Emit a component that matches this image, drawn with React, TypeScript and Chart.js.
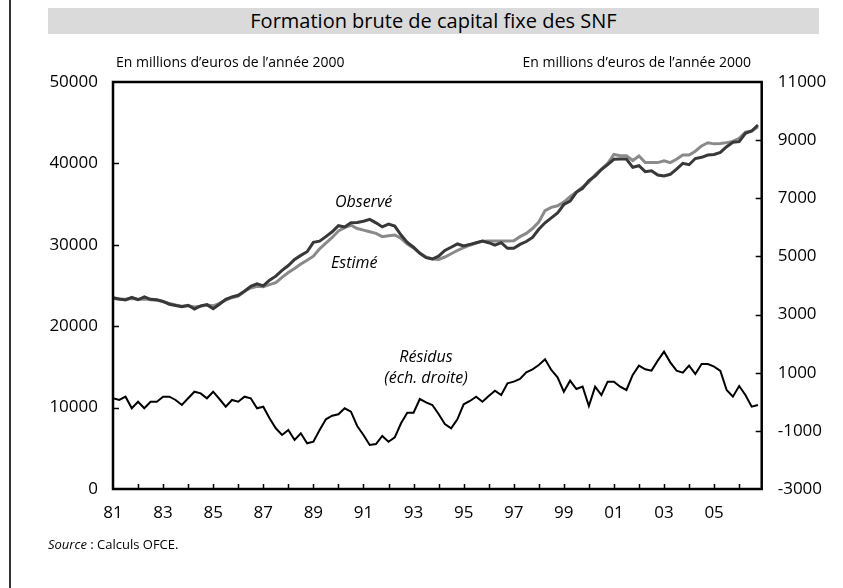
import React, { useEffect, useRef } from "react";
import { Chart, registerables } from "chart.js";

Chart.register(...registerables);

// Quarterly data, 1981Q1 .. 2006Q4
const startYear = 1981;
const observe = [
  23500, 23350, 23220, 23550, 23250, 23600, 23300, 23250,
  23050, 22700, 22550, 22400, 22570, 22100, 22500, 22650,
  22150, 22700, 23300, 23600, 23800, 24300, 24900, 25200,
  24950, 25650, 26150, 26850, 27450, 28200, 28700, 29150,
  30300, 30450, 31000, 31600, 32350, 32200, 32700, 32750,
  32900, 33130, 32700, 32200, 32550, 32300, 31200, 30300,
  29700, 28950, 28420, 28250, 28600, 29300, 29700, 30100,
  29850, 30050, 30250, 30450, 30260, 29970, 30260, 29570,
  29570, 30050, 30400, 30900, 31900, 32700, 33300, 33900,
  34950, 35380, 36450, 36940, 37900, 38450, 39250, 39850,
  40500, 40540, 40540, 39520, 39720, 38980, 39100, 38580,
  38450, 38660, 39300, 40000, 39840, 40600, 40750, 41030,
  41100, 41350, 42050, 42590, 42670, 43700, 43980, 44720,
];
const estime = [
  23400, 23300, 23300, 23400, 23300, 23350, 23250, 23200,
  23000, 22800, 22600, 22450, 22500, 22350, 22450, 22600,
  22500, 22800, 23200, 23500, 23700, 24300, 24700, 24900,
  24850, 25100, 25350, 26000, 26600, 27100, 27650, 28100,
  28600, 29500, 30200, 30900, 31700, 32100, 32400, 32000,
  31800, 31600, 31400, 31000, 31100, 31200, 30800, 30100,
  29600, 29000, 28500, 28250, 28200, 28500, 28900, 29300,
  29650, 29950, 30200, 30450, 30470, 30470, 30470, 30470,
  30500, 31000, 31400, 32000, 32800, 34200, 34600, 34800,
  35250, 35900, 36500, 37100, 37700, 38600, 39300, 40000,
  41100, 40950, 40950, 40350, 40900, 40100, 40100, 40100,
  40330, 40090, 40500, 41030, 41030, 41500, 42150, 42540,
  42400, 42450, 42550, 42700, 43080, 43850, 43980, 44500,
];
const residus = [
  120, 62, 175, -224, 3, -224, 3, 3,
  175, 175, 62, -110, 120, 347, 290, 120,
  347, 96, -169, 62, 3, 175, 120, -224,
  -169, -568, -912, -1142, -970, -1314, -1084, -1428,
  -1373, -970, -602, -478, -430, -224, -341, -833,
  -1142, -1486, -1452, -1177, -1373, -1222, -740, -375,
  -375, 96, -18, -110, -420, -764, -912, -602,
  -86, 27, 175, 3, 199, 382, 234, 635,
  692, 784, 1013, 1117, 1266, 1461, 1094, 841,
  348, 726, 440, 520, -145, 520, 234, 692,
  692, 520, 406, 922, 1243, 1117, 1071, 1415,
  1724, 1357, 1071, 1002, 1243, 956, 1300, 1300,
  1208, 1059, 406, 175, 543, 234, -169, -110,
];

const xTickYears = [1981, 1983, 1985, 1987, 1989, 1991, 1993, 1995, 1997, 1999, 2001, 2003, 2005];
const xTickLabels = ["81", "83", "85", "87", "89", "91", "93", "95", "97", "99", "01", "03", "05"];
const leftTicks = [0, 10000, 20000, 30000, 40000, 50000];
const rightTicks = [-3000, -1000, 1000, 3000, 5000, 7000, 9000, 11000];

const FONT = "'Open Sans', sans-serif";

const toPoints = (arr: number[]) => arr.map((v, i) => ({ x: startYear + i / 4, y: v }));

const framePlugin = {
  id: "frame",
  afterDraw(chart: any) {
    const { ctx, chartArea: a, scales } = chart;
    ctx.save();
    ctx.strokeStyle = "#000";
    ctx.lineWidth = 1.5;
    ctx.beginPath();
    // yearly tick marks on the x axis (inside)
    for (let yr = 1982; yr < scales.x.max; yr++) {
      const px = Math.round(scales.x.getPixelForValue(yr)) + 0.5;
      ctx.moveTo(px, a.bottom);
      ctx.lineTo(px, a.bottom - 5);
    }
    leftTicks.slice(1, -1).forEach((v) => {
      const py = Math.round(scales.y.getPixelForValue(v)) + 0.5;
      ctx.moveTo(a.left, py);
      ctx.lineTo(a.left + 6, py);
    });
    rightTicks.slice(1, -1).forEach((v) => {
      const py = Math.round(scales.y2.getPixelForValue(v)) + 0.5;
      ctx.moveTo(a.right, py);
      ctx.lineTo(a.right - 6, py);
    });
    ctx.stroke();
    ctx.lineWidth = 2.5;
    ctx.strokeRect(a.left, a.top, a.right - a.left, a.bottom - a.top);
    ctx.restore();
  },
};

export default function App() {
  const ref = useRef<HTMLCanvasElement>(null);
  useEffect(() => {
    if (!ref.current) return;
    const chart = new Chart(ref.current, {
      type: "line",
      data: {
        datasets: [
          {
            label: "Observé",
            data: toPoints(observe),
            yAxisID: "y",
            borderColor: "#383838",
            borderWidth: 3,
            pointRadius: 0,
            tension: 0,
            order: 1,
          },
          {
            label: "Estimé",
            data: toPoints(estime),
            yAxisID: "y",
            borderColor: "#8a8a8a",
            borderWidth: 3,
            pointRadius: 0,
            tension: 0,
            order: 2,
          },
          {
            label: "Résidus (éch. droite)",
            data: toPoints(residus),
            yAxisID: "y2",
            borderColor: "#000",
            borderWidth: 2,
            pointRadius: 0,
            tension: 0,
            order: 3,
          },
        ],
      },
      options: {
        responsive: false,
        animation: false,
        events: [],
        layout: { padding: { top: 82, left: 0, right: 0, bottom: 0 } },
        plugins: { legend: { display: false }, tooltip: { enabled: false }, title: { display: false } },
        scales: {
          x: {
            type: "linear",
            min: 1981,
            max: 2006.9,
            grid: { display: false, drawTicks: false },
            border: { display: false },
            afterBuildTicks: (s: any) => {
              s.ticks = xTickYears.map((v) => ({ value: v }));
            },
            afterFit: (s: any) => {
              s.height = 99;
            },
            ticks: {
              autoSkip: false,
              maxRotation: 0,
              padding: 14,
              color: "#000",
              font: { family: FONT, size: 17 },
              callback: (v: any) => {
                const i = xTickYears.indexOf(Number(v));
                return i >= 0 ? xTickLabels[i] : "";
              },
            },
          },
          y: {
            position: "left",
            min: 0,
            max: 50000,
            grid: { display: false, drawTicks: false },
            border: { display: false },
            afterBuildTicks: (s: any) => {
              s.ticks = leftTicks.map((v) => ({ value: v }));
            },
            afterFit: (s: any) => {
              s.width = 113;
            },
            ticks: {
              padding: 15,
              color: "#000",
              font: { family: FONT, size: 17 },
              callback: (v: any) => String(v),
            },
          },
          y2: {
            position: "right",
            min: -3000,
            max: 11000,
            grid: { display: false, drawTicks: false },
            border: { display: false },
            afterBuildTicks: (s: any) => {
              s.ticks = rightTicks.map((v) => ({ value: v }));
            },
            afterFit: (s: any) => {
              s.width = 81.3;
            },
            ticks: {
              padding: 16,
              color: "#000",
              font: { family: FONT, size: 17 },
              callback: (v: any) => String(v),
            },
          },
        },
      },
      plugins: [framePlugin],
    });
    return () => chart.destroy();
  }, []);

  const abs = (s: React.CSSProperties): React.CSSProperties => ({ position: "absolute", ...s });

  return (
    <div
      style={{
        position: "absolute",
        left: 0,
        top: 0,
        width: 843,
        height: 588,
        background: "#fff",
        overflow: "hidden",
        fontFamily: FONT,
        color: "#000",
      }}
    >
      <div style={abs({ left: 9, top: 0, width: 2, height: 588, background: "#333" })} />
      <div
        style={abs({
          left: 48,
          top: 8,
          width: 771,
          height: 26,
          background: "#dadada",
          textAlign: "center",
          lineHeight: "26px",
          fontSize: 20,
        })}
      >
        Formation brute de capital fixe des SNF
      </div>
      <canvas ref={ref} width={843} height={588} style={abs({ left: 0, top: 0 })} />
      <div style={abs({ left: 116, top: 52, fontSize: 14, lineHeight: "19px", whiteSpace: "nowrap" })}>
        En millions d’euros de l’année 2000
      </div>
      <div style={abs({ right: 843 - 751, top: 52, fontSize: 14, lineHeight: "19px", whiteSpace: "nowrap" })}>
        En millions d’euros de l’année 2000
      </div>
      <div style={abs({ left: 335, top: 191, fontSize: 16, fontStyle: "italic", lineHeight: "21px", whiteSpace: "nowrap" })}>
        Observé
      </div>
      <div style={abs({ left: 331, top: 252, fontSize: 16, fontStyle: "italic", lineHeight: "21px", whiteSpace: "nowrap" })}>
        Estimé
      </div>
      <div
        style={abs({
          left: 370,
          top: 346,
          width: 112,
          textAlign: "center",
          fontSize: 16,
          fontStyle: "italic",
          lineHeight: "21px",
          whiteSpace: "nowrap",
        })}
      >
        Résidus
        <br />
        (éch. droite)
      </div>
      <div style={abs({ left: 48, top: 535, fontSize: 13, lineHeight: "18px", whiteSpace: "nowrap" })}>
        <i>Source</i> : Calculs OFCE.
      </div>
    </div>
  );
}
